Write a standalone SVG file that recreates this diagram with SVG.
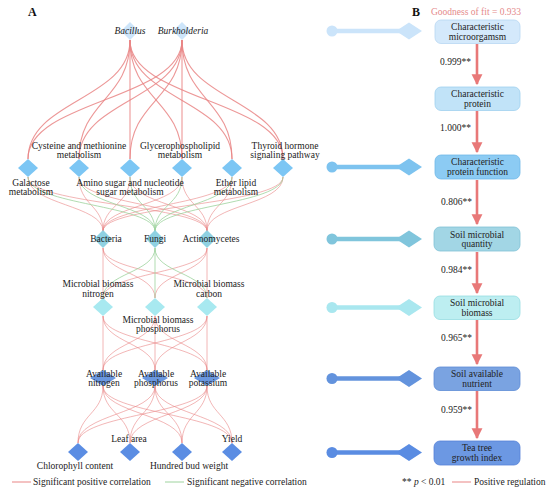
<svg xmlns="http://www.w3.org/2000/svg" width="550" height="492" viewBox="0 0 550 492">
<style>
.t{font-family:"Liberation Serif","Times New Roman",serif;font-size:9.5px;fill:#222;text-anchor:middle}
.it{font-style:italic}
.hd{font-family:"Liberation Serif",serif;font-size:12px;font-weight:bold;fill:#111}
.r{fill:none;stroke:#e98585;stroke-width:1.1;stroke-opacity:.85}
.rl{fill:none;stroke:#e98585;stroke-width:1;stroke-opacity:.6}
.g{fill:none;stroke:#9ed39e;stroke-width:1;stroke-opacity:.8}
.arr{stroke:#e87878;stroke-width:2.6}
.num{font-family:"Liberation Serif",serif;font-size:9.5px;fill:#222}
</style>
<defs>
<marker id="ah" viewBox="0 0 10 10" refX="9" refY="5" markerWidth="4.2" markerHeight="4.4" orient="auto" markerUnits="strokeWidth">
<path d="M0,0 L10,5 L0,10 z" fill="#e87878"/>
</marker>
</defs>
<rect width="550" height="492" fill="#fff"/>
<text class="hd" x="28" y="16">A</text>
<text class="hd" x="412" y="16">B</text>
<g id="connectors">
<g class="r">
<path d="M130 40 C130 100 28 100 28 159"/><path d="M130 40 C130 100 79 100 79 159"/><path d="M130 40 L130 159"/><path d="M130 40 C130 100 182 100 182 159"/><path d="M130 40 C130 100 232 100 232 159"/><path d="M130 40 C130 100 283 100 283 159"/>
<path d="M182 40 C182 100 28 100 28 159"/><path d="M182 40 C182 100 79 100 79 159"/><path d="M182 40 C182 100 130 100 130 159"/><path d="M182 40 L182 159"/><path d="M182 40 C182 100 232 100 232 159"/><path d="M182 40 C182 100 283 100 283 159"/>
</g>
<g class="rl">
<path d="M28 177 C28 205 103 205 103 231"/><path d="M79 177 C79 205 103 205 103 231"/><path d="M130 177 C130 205 103 205 103 231"/><path d="M182 177 C182 205 103 205 103 231"/><path d="M232 177 C232 205 103 205 103 231"/><path d="M283 177 C283 205 103 205 103 231"/>
<path d="M28 177 C28 205 207 205 207 231"/><path d="M79 177 C79 205 207 205 207 231"/><path d="M130 177 C130 205 207 205 207 231"/><path d="M182 177 C182 205 207 205 207 231"/><path d="M232 177 C232 205 207 205 207 231"/><path d="M283 177 C283 205 207 205 207 231"/>
<path d="M103 248 L103 298"/><path d="M103 248 C103 273 155 273 155 298"/><path d="M103 248 C103 273 207 273 207 298"/>
<path d="M207 248 C207 273 103 273 103 298"/><path d="M207 248 C207 273 155 273 155 298"/><path d="M207 248 L207 298"/>
<path d="M103 316 L103 370"/><path d="M103 316 C103 343 155 343 155 370"/><path d="M103 316 C103 343 207 343 207 370"/>
<path d="M155 316 C155 343 103 343 103 370"/><path d="M155 316 L155 370"/><path d="M155 316 C155 343 207 343 207 370"/>
<path d="M207 316 C207 343 103 343 103 370"/><path d="M207 316 C207 343 155 343 155 370"/><path d="M207 316 L207 370"/>
<path d="M103 386 C103 414 78 414 78 443"/><path d="M103 386 C103 414 130 414 130 443"/><path d="M103 386 C103 414 182 414 182 443"/><path d="M103 386 C103 414 232 414 232 443"/>
<path d="M155 386 C155 414 78 414 78 443"/><path d="M155 386 C155 414 130 414 130 443"/><path d="M155 386 C155 414 182 414 182 443"/><path d="M155 386 C155 414 232 414 232 443"/>
<path d="M207 386 C207 414 78 414 78 443"/><path d="M207 386 C207 414 130 414 130 443"/><path d="M207 386 C207 414 182 414 182 443"/><path d="M207 386 C207 414 232 414 232 443"/>
</g>
<g class="g">
<path d="M28 177 C28 205 155 205 155 231"/><path d="M79 177 C79 205 155 205 155 231"/><path d="M130 177 C130 205 155 205 155 231"/><path d="M182 177 C182 205 155 205 155 231"/><path d="M232 177 C232 205 155 205 155 231"/><path d="M283 177 C283 205 155 205 155 231"/>
<path d="M155 248 C155 273 103 273 103 298"/><path d="M155 248 L155 298"/><path d="M155 248 C155 273 207 273 207 298"/>
</g>
<line class="arr" x1="477" y1="44" x2="477" y2="84" marker-end="url(#ah)"/>
<line class="arr" x1="477" y1="111" x2="477" y2="152" marker-end="url(#ah)"/>
<line class="arr" x1="477" y1="180" x2="477" y2="224" marker-end="url(#ah)"/>
<line class="arr" x1="477" y1="252" x2="477" y2="293" marker-end="url(#ah)"/>
<line class="arr" x1="477" y1="320" x2="477" y2="364" marker-end="url(#ah)"/>
<line class="arr" x1="477" y1="391" x2="477" y2="438" marker-end="url(#ah)"/>
</g>
<g id="n-bacillus"><polygon points="130,22 139,31 130,40 121,31" fill="#cde5fa"/><text class="t it" x="130" y="34">Bacillus</text></g>
<g id="n-burkholderia"><polygon points="182,22 191,31 182,40 173,31" fill="#cde5fa"/><text class="t it" x="183" y="34">Burkholderia</text></g>
<g id="n-galactose"><polygon points="28,159 38,168 28,177 18,168" fill="#7cc6f4"/><text class="t" x="31" y="186">Galactose</text><text class="t" x="31" y="195">metabolism</text></g>
<g id="n-cysteine"><polygon points="79,159 89,168 79,177 69,168" fill="#7cc6f4"/><text class="t" x="79" y="149">Cysteine and methionine</text><text class="t" x="79" y="158">metabolism</text></g>
<g id="n-aminosugar"><polygon points="130,159 140,168 130,177 120,168" fill="#7cc6f4"/><text class="t" x="130" y="186">Amino sugar and nucleotide</text><text class="t" x="130" y="195">sugar metabolism</text></g>
<g id="n-glycero"><polygon points="182,159 192,168 182,177 172,168" fill="#7cc6f4"/><text class="t" x="180" y="149">Glycerophospholipid</text><text class="t" x="180" y="158">metabolism</text></g>
<g id="n-ether"><polygon points="232,159 242,168 232,177 222,168" fill="#7cc6f4"/><text class="t" x="236" y="186">Ether lipid</text><text class="t" x="236" y="195">metabolism</text></g>
<g id="n-thyroid"><polygon points="283,159 293,168 283,177 273,168" fill="#7cc6f4"/><text class="t" x="285" y="149">Thyroid hormone</text><text class="t" x="285" y="158">signaling pathway</text></g>
<g id="n-bacteria"><polygon points="103,230 112,239 103,248 94,239" fill="#8fd1e2"/><text class="t" x="106" y="242">Bacteria</text></g>
<g id="n-fungi"><polygon points="155,230 164,239 155,248 146,239" fill="#8fd1e2"/><text class="t" x="155" y="242">Fungi</text></g>
<g id="n-actino"><polygon points="207,230 216,239 207,248 198,239" fill="#8fd1e2"/><text class="t" x="211" y="242">Actinomycetes</text></g>
<g id="n-mbn"><polygon points="103,298 113,307 103,316 93,307" fill="#a8e9f0"/><text class="t" x="98" y="287">Microbial biomass</text><text class="t" x="98" y="297">nitrogen</text></g>
<g id="n-mbp"><polygon points="155,298 165,307 155,316 145,307" fill="#a8e9f0"/><text class="t" x="158" y="323">Microbial biomass</text><text class="t" x="158" y="332">phosphorus</text></g>
<g id="n-mbc"><polygon points="207,298 217,307 207,316 197,307" fill="#a8e9f0"/><text class="t" x="209" y="287">Microbial biomass</text><text class="t" x="209" y="297">carbon</text></g>
<g id="n-an"><polygon points="103,370 116,378 103,386 90,378" fill="#6a97df"/><text class="t" x="104" y="377">Available</text><text class="t" x="104" y="386">nitrogen</text></g>
<g id="n-ap"><polygon points="155,370 168,378 155,386 142,378" fill="#6a97df"/><text class="t" x="156" y="377">Available</text><text class="t" x="156" y="386">phosphorus</text></g>
<g id="n-ak"><polygon points="207,370 220,378 207,386 194,378" fill="#6a97df"/><text class="t" x="208" y="377">Available</text><text class="t" x="208" y="386">potassium</text></g>
<g id="n-chloro"><polygon points="78,443 88,452 78,461 68,452" fill="#5b8de3"/><text class="t" x="75" y="469">Chlorophyll content</text></g>
<g id="n-leaf"><polygon points="130,443 140,452 130,461 120,452" fill="#5b8de3"/><text class="t" x="129" y="442">Leaf area</text></g>
<g id="n-bud"><polygon points="182,443 192,452 182,461 172,452" fill="#5b8de3"/><text class="t" x="189" y="469">Hundred bud weight</text></g>
<g id="n-yield"><polygon points="232,443 242,452 232,461 222,452" fill="#5b8de3"/><text class="t" x="232" y="442">Yield</text></g>
<g id="legend-a">
<line x1="12" y1="482" x2="31" y2="482" stroke="#e98585" stroke-width="1"/>
<text class="t" x="33" y="485" style="text-anchor:start">Significant positive correlation</text>
<line x1="165" y1="482" x2="184" y2="482" stroke="#9ed39e" stroke-width="1"/>
<text class="t" x="187" y="485" style="text-anchor:start">Significant negative correlation</text>
</g>
<text x="476" y="15" style="font-family:'Liberation Serif',serif;font-size:9.5px;fill:#e58a8a;text-anchor:middle">Goodness of fit = 0.933</text>
<g id="b1"><rect x="435" y="20" width="85" height="23.5" rx="6" fill="#d4e9fb" stroke="#b7d7f2" stroke-width="0.8"/><text class="t" x="477.5" y="30">Characteristic</text><text class="t" x="477.5" y="39.5">microorgamsm</text></g>
<g id="b2"><rect x="435" y="87" width="85" height="23.5" rx="6" fill="#c1e3f8" stroke="#9fd0ef" stroke-width="0.8"/><text class="t" x="477.5" y="97">Characteristic</text><text class="t" x="477.5" y="106.5">protein</text></g>
<g id="b3"><rect x="435" y="155" width="85" height="24" rx="6" fill="#8ccbf3" stroke="#6fb7e7" stroke-width="0.8"/><text class="t" x="477.5" y="165">Characteristic</text><text class="t" x="477.5" y="175">protein function</text></g>
<g id="b4"><rect x="434" y="227" width="86" height="24" rx="6" fill="#a2d6e5" stroke="#80c2d5" stroke-width="0.8"/><text class="t" x="477" y="237.5">Soil microbial</text><text class="t" x="477" y="247">quantity</text></g>
<g id="b5"><rect x="434" y="296" width="86" height="23.5" rx="6" fill="#bdeef1" stroke="#97dde2" stroke-width="0.8"/><text class="t" x="477" y="306">Soil microbial</text><text class="t" x="477" y="315.5">biomass</text></g>
<g id="b6"><rect x="434" y="367" width="86" height="23.5" rx="6" fill="#7aa3e1" stroke="#5d8bd6" stroke-width="0.8"/><text class="t" x="477" y="377">Soil available</text><text class="t" x="477" y="386.5">nutrient</text></g>
<g id="b7"><rect x="434" y="441" width="86" height="24" rx="6" fill="#6c98e3" stroke="#5582d8" stroke-width="0.8"/><text class="t" x="477" y="451">Tea tree</text><text class="t" x="477" y="461">growth index</text></g>
<g id="coef">
<text class="num" x="440" y="65">0.999**</text>
<text class="num" x="440" y="131">1.000**</text>
<text class="num" x="441" y="205">0.806**</text>
<text class="num" x="441" y="273">0.984**</text>
<text class="num" x="441" y="341">0.965**</text>
<text class="num" x="441" y="413">0.959**</text>
</g>
<g id="lolli1"><circle cx="332" cy="31" r="5.5" fill="#cbe4fa"/><line x1="332" y1="31" x2="400" y2="31" stroke="#cbe4fa" stroke-width="4.5"/><polygon points="396,31 409,22.5 422,31 409,39.5" fill="#cbe4fa"/></g>
<g id="lolli3"><circle cx="332" cy="167" r="5.5" fill="#7dc3ef"/><line x1="332" y1="167" x2="400" y2="167" stroke="#7dc3ef" stroke-width="4.5"/><polygon points="396,167 409,158.5 422,167 409,175.5" fill="#7dc3ef"/></g>
<g id="lolli4"><circle cx="332" cy="239" r="5.5" fill="#80c5dc"/><line x1="332" y1="239" x2="400" y2="239" stroke="#80c5dc" stroke-width="4.5"/><polygon points="396,239 409,230.5 422,239 409,247.5" fill="#80c5dc"/></g>
<g id="lolli5"><circle cx="332" cy="307.5" r="5.5" fill="#a9e7ef"/><line x1="332" y1="307.5" x2="400" y2="307.5" stroke="#a9e7ef" stroke-width="4.5"/><polygon points="396,307.5 409,299 422,307.5 409,316" fill="#a9e7ef"/></g>
<g id="lolli6"><circle cx="332" cy="378.5" r="5.5" fill="#6393dd"/><line x1="332" y1="378.5" x2="400" y2="378.5" stroke="#6393dd" stroke-width="4.5"/><polygon points="396,378.5 409,370 422,378.5 409,387" fill="#6393dd"/></g>
<g id="lolli7"><circle cx="332" cy="452.5" r="5.5" fill="#5a8ce2"/><line x1="332" y1="452.5" x2="400" y2="452.5" stroke="#5a8ce2" stroke-width="4.5"/><polygon points="396,452.5 409,444 422,452.5 409,461" fill="#5a8ce2"/></g>
<g id="legend-b">
<text x="402" y="485" style="font-family:'Liberation Serif',serif;font-size:9.5px;fill:#222">** <tspan font-style="italic">p</tspan> &lt; 0.01</text>
<line x1="452" y1="482" x2="471" y2="482" stroke="#e98585" stroke-width="1"/>
<text class="t" x="474" y="485" style="text-anchor:start">Positive regulation</text>
</g>
</svg>
